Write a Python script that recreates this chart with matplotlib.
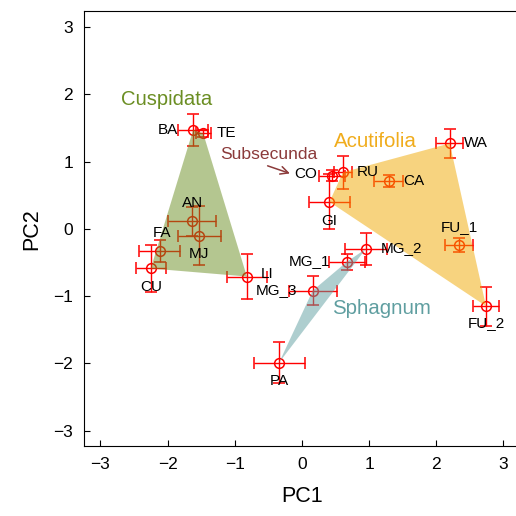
import matplotlib
matplotlib.use("Agg")
import matplotlib.pyplot as plt
import numpy as np

plt.rcParams['font.family'] = ['Liberation Sans', 'DejaVu Sans']

# species means on PC1 / PC2 with error (half widths)
names = ["BA", "TE", "AN", "MJ", "FA", "CU", "LI",
         "MG_3", "MG_1", "MG_2", "PA",
         "CO", "RU", "CA", "GI", "WA", "FU_1", "FU_2"]
pc1 = [-1.62, -1.47, -1.64, -1.53, -2.12, -2.25, -0.82,
       0.16, 0.67, 0.95, -0.34,
       0.45, 0.61, 1.29, 0.41, 2.20, 2.34, 2.74]
pc2 = [1.47, 1.42, 0.11, -0.10, -0.33, -0.59, -0.71,
       -0.92, -0.49, -0.30, -1.99,
       0.79, 0.84, 0.71, 0.40, 1.27, -0.24, -1.15]
pc1_err = [0.22, 0.11, 0.36, 0.32, 0.31, 0.22, 0.30,
           0.36, 0.27, 0.31, 0.38,
           0.19, 0.14, 0.22, 0.31, 0.20, 0.21, 0.20]
pc2_err = [0.24, 0.05, 0.22, 0.44, 0.17, 0.35, 0.34,
           0.22, 0.12, 0.24, 0.31,
           0.08, 0.25, 0.09, 0.41, 0.21, 0.10, 0.29]

groups = {
    "Cuspidata": ["BA", "TE", "AN", "MJ", "FA", "CU", "LI"],
    "Acutifolia": ["RU", "CA", "GI", "WA", "FU_1", "FU_2"],
    "Sphagnum": ["MG_3", "MG_1", "MG_2", "PA"],
}
group_fill = {"Cuspidata": "#6b8e23", "Acutifolia": "#f0a800", "Sphagnum": "#5f9ea0"}
group_text = {"Cuspidata": "#6b8e23", "Acutifolia": "#f0ac1c",
              "Sphagnum": "#5f9ea0", "Subsecunda": "#8b3a3a"}
group_label_pos = {"Cuspidata": (-2.01, 1.92), "Acutifolia": (1.09, 1.30),
                   "Sphagnum": (1.19, -1.18), "Subsecunda": (-0.50, 1.10)}
group_label_size = {"Cuspidata": 14.6, "Acutifolia": 14.8,
                    "Sphagnum": 14.7, "Subsecunda": 12.6}

# label offsets in pixels
offsets = {"BA": (-25, 0), "TE": (23, 0), "AN": (1, 18), "MJ": (0, -18),
           "FA": (2, 18), "CU": (0, -19), "LI": (20, 3), "MG_3": (-36, 1),
           "MG_1": (-37, 1), "MG_2": (36, 1), "PA": (0, -18), "CO": (-26, 2),
           "RU": (25, 0), "CA": (25, 0), "GI": (0, -19), "WA": (26, 0),
           "FU_1": (0, 18), "FU_2": (0, -17)}


def hull(pts):
    pts = sorted(set(pts))
    def cross(o, a, b):
        return (a[0]-o[0])*(b[1]-o[1]) - (a[1]-o[1])*(b[0]-o[0])
    lower, upper = [], []
    for p in pts:
        while len(lower) >= 2 and cross(lower[-2], lower[-1], p) <= 0:
            lower.pop()
        lower.append(p)
    for p in reversed(pts):
        while len(upper) >= 2 and cross(upper[-2], upper[-1], p) <= 0:
            upper.pop()
        upper.append(p)
    return lower[:-1] + upper[:-1]


fig = plt.figure(figsize=(5.16, 5.16), dpi=100)
ax = fig.add_axes([84.3/516, 69.7/516, 435.3/516, 435/516])

ax.errorbar(pc1, pc2, xerr=pc1_err, yerr=pc2_err, fmt="o", mfc="none",
            mec="red", ms=7, mew=1.1, ecolor="red", elinewidth=1,
            capsize=4.5, capthick=1, zorder=1)

for g, members in groups.items():
    idx = [names.index(n) for n in members]
    poly = hull([(pc1[i], pc2[i]) for i in idx])
    ax.fill([p[0] for p in poly], [p[1] for p in poly], color=group_fill[g],
            alpha=0.5, lw=0, zorder=2)

for i, n in enumerate(names):
    ax.annotate(n, (pc1[i], pc2[i]), xytext=offsets[n], textcoords="offset pixels",
                ha="center", va="center", fontsize=11, zorder=3)

for g, (gx, gy) in group_label_pos.items():
    ax.text(gx, gy, g, color=group_text[g], fontsize=group_label_size[g],
            ha="center", va="center", zorder=3)

# arrow Subsecunda -> CO
ax.annotate("", xy=(-0.14, 0.81), xytext=(-0.55, 0.95),
            arrowprops=dict(arrowstyle="->", color="#8b3a3a", lw=1.1,
                            mutation_scale=14))

ax.set_xlim(-3.24, 3.24)
ax.set_ylim(-3.235, 3.235)
ax.set_xticks(range(-3, 4))
ax.set_yticks(range(-3, 4))
ax.spines["right"].set_visible(False)
ax.tick_params(direction="in", length=4, labelsize=12.5, pad=8)
ax.set_xlabel("PC1", fontsize=15.5, labelpad=10)
ax.set_ylabel("PC2", fontsize=15.5, labelpad=8)

fig.savefig("out.png", dpi=100)
